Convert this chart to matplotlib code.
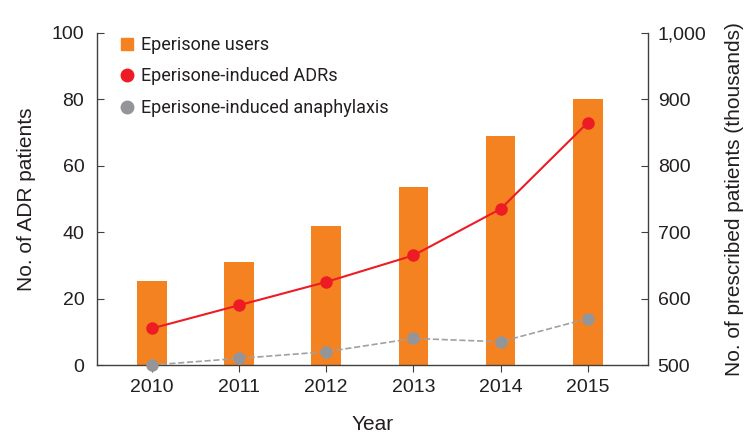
import matplotlib
matplotlib.use("Agg")
import matplotlib.pyplot as plt
from matplotlib.lines import Line2D
from matplotlib.ticker import FuncFormatter
import numpy as np

years = ["2010", "2011", "2012", "2013", "2014", "2015"]
users_thousands = [627, 655, 709, 768, 845, 900]
adr_patients = [11, 18, 25, 33, 47, 73]
anaphylaxis_patients = [0, 2, 4, 8, 7, 14]

ORANGE = "#F58220"
RED = "#ED1C24"
GRAY = "#939598"
SPINE = "#404040"
TEXT = "#231F20"

plt.rcParams["font.family"] = ["Liberation Sans", "DejaVu Sans"]

fig = plt.figure(figsize=(7.5, 4.33), dpi=100)
ax1 = fig.add_axes([0.129, 0.157, 0.735, 0.767])
ax2 = ax1.twinx()

x = np.arange(len(years))

# bars go on the right axis (thousands of users)
ax2.bar(x, users_thousands, width=0.34, color=ORANGE)
ax2.set_ylim(500, 1000)
ax2.set_yticks([500, 600, 700, 800, 900, 1000])
ax2.yaxis.set_major_formatter(FuncFormatter(lambda v, _: f"{int(v):,}"))

ax1.plot(x, adr_patients, "-", color=RED, lw=1.5, marker="o", ms=9,
         markeredgewidth=0, zorder=3)
ax1.plot(x, anaphylaxis_patients, "--", color="#A0A0A0", lw=1.2, marker="o",
         ms=9, markerfacecolor=GRAY, markeredgewidth=0, zorder=3, clip_on=False)
ax1.set_ylim(0, 100)
ax1.set_yticks(range(0, 101, 20))
ax1.set_xlim(-0.63, 5.69)
ax1.set_xticks(x)
ax1.set_xticklabels(years)

# lines above the bars
ax1.set_zorder(ax2.get_zorder() + 1)
ax1.patch.set_visible(False)

for ax in (ax1, ax2):
    ax.spines["top"].set_visible(False)
    for s in ax.spines.values():
        s.set_color(SPINE)
        s.set_linewidth(1.0)
ax1.spines["right"].set_visible(False)
ax2.spines["left"].set_visible(False)
ax2.spines["bottom"].set_visible(False)

ax1.tick_params(axis="y", direction="in", length=5, color=SPINE,
                labelsize=14, labelcolor=TEXT, pad=9)
ax1.tick_params(axis="x", direction="out", length=5, color=SPINE,
                labelsize=14, labelcolor=TEXT, pad=5)
ax2.tick_params(axis="y", direction="in", length=5, color=SPINE,
                labelsize=14, labelcolor=TEXT, pad=7)

ax1.set_xlabel("Year", fontsize=15, color=TEXT, labelpad=14)
ax1.set_ylabel("No. of ADR patients", fontsize=15, color=TEXT, labelpad=11)
ax2.set_ylabel("No. of prescribed patients (thousands)", fontsize=15,
               color=TEXT, labelpad=13)

handles = [
    Line2D([], [], ls="none", marker="s", ms=9, color=ORANGE),
    Line2D([], [], ls="none", marker="o", ms=9, color=RED),
    Line2D([], [], ls="none", marker="o", ms=9, color=GRAY),
]
labels = ["Eperisone users", "Eperisone-induced ADRs",
          "Eperisone-induced anaphylaxis"]
leg = ax1.legend(handles, labels, loc="upper left", bbox_to_anchor=(0.005, 1.04),
                 frameon=False, handletextpad=0.2,
                 labelspacing=0.75, handlelength=1.2,
                 prop={"family": ["Roboto", "DejaVu Sans"], "size": 13})
for t in leg.get_texts():
    t.set_color(TEXT)

fig.savefig("out.png", dpi=100)
